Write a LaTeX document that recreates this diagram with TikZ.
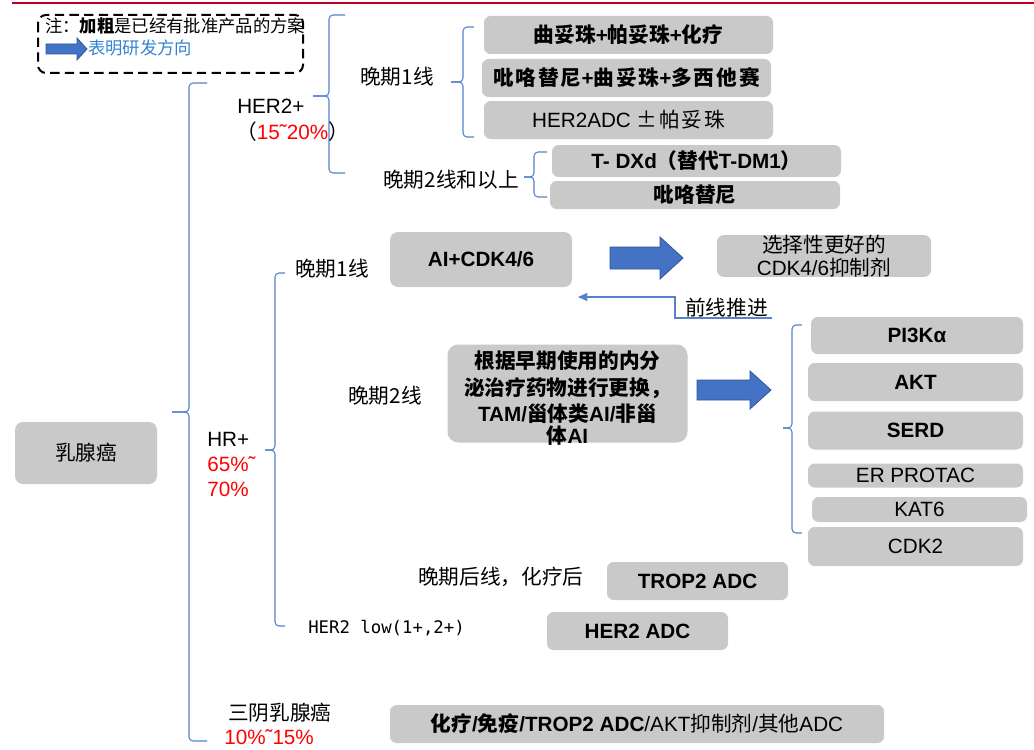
\documentclass[tikz,border=0pt]{standalone}
\usepackage{fontspec}
\setmainfont{Liberation Sans}
\newfontfamily\cjk{Noto Sans CJK SC}
\newfontfamily\cjkw[LetterSpace=9]{Noto Sans CJK SC}
\newfontfamily\monof{DejaVu Sans Mono}
\usetikzlibrary{arrows.meta}
\definecolor{boxgray}{RGB}{201,201,201}
\definecolor{arrblue}{RGB}{68,114,196}
\definecolor{arredge}{RGB}{47,85,151}
\definecolor{brcblue}{RGB}{86,130,205}
\definecolor{topred}{RGB}{192,0,32}
\definecolor{pctred}{RGB}{255,0,0}
\definecolor{legblue}{RGB}{52,132,210}
\newcommand\zh[1]{{\cjk #1}}
\newcommand\zw[1]{{\cjkw #1}}
% brace: xv, xh, xtip, ytop, ymid, ybot
\newcommand\mybrace[6]{%
  \draw[brcline] (#2,#4) -- (#1,#4) -- (#1,#5) -- (#3,#5);
  \draw[brcline] (#3,#5) -- (#1,#5) -- (#1,#6) -- (#2,#6);}
\tikzset{
  gbox/.style={fill=boxgray, rounded corners=5pt, inner sep=0pt, align=center,
    font=\fontsize{15.5}{18.6}\selectfont},
  bx/.style 2 args={minimum width=#1*0.75pt, minimum height=#2*0.75pt},
  lbl/.style={inner sep=0pt, anchor=west, font=\fontsize{15.5}{18.6}\selectfont},
  brcline/.style={draw=brcblue, line width=0.8pt, rounded corners=3pt},
  blockarrow/.style={fill=arrblue, draw=arredge, line width=0.6pt},
  thinarrow/.style={draw=brcblue, line width=0.8pt, -{Triangle[length=7pt,width=6pt]}},
}
\begin{document}
\begin{tikzpicture}[x=0.75pt,y=-0.75pt]
\useasboundingbox (0,0) rectangle (1034,749);
\fill[white] (0,0) rectangle (1034,749);
% top rule
\draw[topred, line width=2pt] (12,3) -- (1034,3);

% legend
\draw[dash pattern=on 7pt off 4pt, line width=1.5pt, rounded corners=6pt] (38,15) rectangle (303,73);
\node[lbl, font=\fontsize{13}{15}\selectfont] (note1) at (45,26)
  {\zh{注：}\textbf{\zh{加粗}}\zh{是已经有批准产品的方案}};
\fill[blockarrow] (46,44) -- (77,44) -- (77,38) -- (87,49) -- (77,60) -- (77,54) -- (46,54) -- cycle;
\node[lbl, font=\fontsize{13}{15}\selectfont, text=legblue] (note2) at (88,48) {\zh{表明研发方向}};

% braces
\mybrace{189}{207}{172}{83}{412}{741}
\mybrace{329}{345}{313}{15}{96}{173}
\mybrace{463}{474}{451}{27}{82}{137}
\mybrace{534}{547}{524}{152}{177}{197}
\mybrace{275}{285}{265}{273}{450}{626}
\mybrace{792}{802}{783}{325}{428}{533}

% root
\node[gbox, bx={142}{62}, rounded corners=6pt] (root) at (86,453) {\zh{乳腺癌}};

% HER2+
\node[lbl] (her2p) at (237,106) {HER2+};
\node[lbl] (her2pct) at (236,132) {\zh{（}\textcolor{pctred}{15˜20\%}\zh{）}};
\node[lbl] (l1) at (360,77) {\zh{晚期1线}};
\node[lbl] (l2) at (383,180) {\zh{晚期2线和以上}};
\node[gbox, bx={289}{38}] (hA) at (628.5,35) {\bfseries\zh{曲妥珠}+\zh{帕妥珠}+\zh{化疗}};
\node[gbox, bx={289}{38}] (hB) at (626.5,78) {\bfseries\zw{吡咯替尼}+\zw{曲妥珠}+\zw{多西他赛}};
\node[gbox, bx={289}{38}] (hC) at (628.5,120) {HER2ADC \zw{±帕妥珠}};
\node[gbox, bx={289}{32}] (hD) at (696.5,161) {\bfseries T- DXd\zh{（替代}T-DM1\zh{）}};
\node[gbox, bx={290}{28}] (hE) at (695,195) {\bfseries\zh{吡咯替尼}};

% HR+
\node[lbl, align=left, font=\fontsize{15.5}{18.75}\selectfont] (hr) at (207,464)
  {HR+\\\textcolor{pctred}{65\%˜}\\\textcolor{pctred}{70\%}};
\node[lbl] (h1) at (295,269) {\zh{晚期1线}};
\node[gbox, bx={182}{55}, rounded corners=6pt] (ai) at (481,259.5) {\bfseries AI+CDK4/6};
\fill[blockarrow] (610,247) -- (660,247) -- (660,237) -- (683,258) -- (660,279) -- (660,269) -- (610,269) -- cycle;
\node[gbox, bx={214}{38}, font=\fontsize{15.5}{17}\selectfont] (sel) at (824,256)
  {\zh{选择性更好的}\\CDK4/6\zh{抑制剂}};
\coordinate (fx) at (772,318);
\draw[thinarrow] (fx) -- ++(-97,0) -- ++(0,-21) -- ++(-97,0);
\node[lbl] (fwd) at (685,308) {\zh{前线推进}};

\node[lbl] (h2) at (348,396) {\zh{晚期2线}};
\node[gbox, bx={240}{98}, rounded corners=8pt] (endo) at (567.5,393.5) {};
\node[inner sep=0pt, align=center, font=\bfseries\fontsize{15.5}{20}\selectfont] (endotxt) at (567.5,398)
  {\zh{根据早期使用的内分}\\\zh{泌治疗药物进行更换，}\\TAM/\zh{甾体类}AI/\zh{非甾}\\[-4pt]\zh{体}AI};
\fill[blockarrow] (697,380) -- (750,380) -- (750,371) -- (771,390) -- (750,409) -- (750,400) -- (697,400) -- cycle;

\node[gbox, bx={212}{37}] (pi3k) at (917,335.5) {\bfseries PI3Kα};
\node[gbox, bx={215}{38}] (akt) at (915.5,382) {\bfseries AKT};
\node[gbox, bx={215}{38}] (serd) at (915.5,430.5) {\bfseries SERD};
\node[gbox, bx={215}{24}] (erp) at (915.5,475.5) {ER PROTAC};
\node[gbox, bx={215}{25}] (kat) at (919.5,509.5) {KAT6};
\node[gbox, bx={215}{39}] (cdk) at (915.5,546.5) {CDK2};

\node[lbl] (h3) at (418,577) {\zh{晚期后线，化疗后}};
\node[gbox, bx={181}{38}] (trop) at (697.5,581) {\bfseries TROP2 ADC};
\node[lbl, font=\monof\fontsize{13}{15}\selectfont] (hlow) at (308,628) {HER2 low(1+,2+)};
\node[gbox, bx={181}{38}] (her2adc) at (637.5,631) {\bfseries HER2 ADC};

% TNBC
\node[lbl] (tn) at (228,713) {\zh{三阴乳腺癌}};
\node[lbl, text=pctred] (tnpct) at (224,737) {10\%˜15\%};
\node[gbox, bx={494}{38}] (tnbc) at (637,724)
  {\textbf{\zh{化疗}/\zh{免疫}/TROP2 ADC}/AKT\zh{抑制剂}/\zh{其他}ADC};
\end{tikzpicture}
\end{document}
